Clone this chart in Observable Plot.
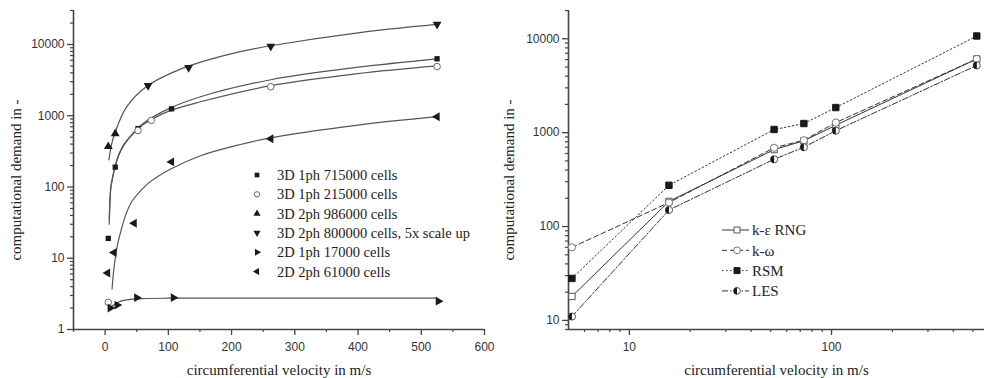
<!DOCTYPE html>
<html><head><meta charset="utf-8">
<script src="https://cdn.jsdelivr.net/npm/d3@7"></script>
<script src="https://cdn.jsdelivr.net/npm/@observablehq/plot@0.6"></script>
<style>
body{margin:0;background:#fff;}
#wrap{position:relative;width:984px;height:378px;overflow:hidden;background:#fff;}
.p{position:absolute;top:0;}
#leg{position:absolute;left:0;top:0;}
</style></head><body><div id="wrap"></div>
<script>
// ---------- LEFT CHART DATA ----------
const leftXLabel = "circumferential velocity in m/s";
const leftYLabel = "computational demand in -";
const leftXMajor = [0, 100, 200, 300, 400, 500, 600];
const leftXMinor = [-50, 50, 150, 250, 350, 450, 550];
const leftYMajor = [1, 10, 100, 1000, 10000];
const leftYMinor = [2,3,4,5,6,7,8,9,20,30,40,50,60,70,80,90,200,300,400,500,600,700,800,900,2000,3000,4000,5000,6000,7000,8000,9000,20000,30000];

const seriesNames = ["3D 1ph 715000 cells", "3D 1ph 215000 cells", "3D 2ph 986000 cells",
  "3D 2ph 800000 cells, 5x scale up", "2D 1ph 17000 cells", "2D 2ph 61000 cells"];

// measured points
const s715x = [5, 16, 52, 105, 525];
const s715y = [19, 190, 660, 1250, 6300];
const s215x = [5, 52, 73, 262, 525];
const s215y = [2.4, 620, 860, 2550, 4900];
const s986x = [5, 16];
const s986y = [370, 560];
const s800x = [68, 132, 262, 525];
const s800y = [2650, 4750, 9400, 19200];
const s17x = [8, 19, 50, 108, 527];
const s17y = [2.0, 2.2, 2.8, 2.8, 2.5];
const s61x = [4, 14, 46, 105, 262, 525];
const s61y = [6.2, 12, 31, 225, 475, 970];

// fitted trend curves
const fitTopX = [6, 10, 16, 34, 66, 108, 151, 214, 262, 400, 525];
const fitTopY = [240, 390, 590, 1330, 2600, 4100, 5650, 7950, 9600, 14600, 19100];
const fit715X = [6.5, 7.5, 9, 12, 16, 22, 30, 45, 60, 100, 151, 262, 400, 525];
const fit715Y = [35, 60, 100, 140, 200, 290, 400, 580, 780, 1250, 1850, 3200, 4800, 6300];
const fit215X = [6.5, 7.5, 9, 12, 16, 22, 30, 45, 60, 100, 151, 262, 400, 525];
const fit215Y = [30, 55, 95, 135, 195, 285, 390, 565, 745, 1150, 1570, 2640, 3900, 5000];
const fit17X = [8, 12, 16, 25, 40, 60, 100, 200, 525];
const fit17Y = [2.0, 2.15, 2.3, 2.5, 2.65, 2.72, 2.75, 2.75, 2.75];
const fit61X = [11, 13, 16, 20, 26, 34, 42, 55, 71, 103, 151, 214, 262, 400, 525];
const fit61Y = [3.7, 6, 10, 16, 26, 44, 62, 86, 118, 178, 275, 395, 490, 740, 970];

// ---------- RIGHT CHART DATA ----------
const rightXMajor = [10, 100];
const rightXMinor = [6,7,8,9,20,30,40,50,60,70,80,90,200,300,400,500];
const rightYMajor = [10, 100, 1000, 10000];
const rightYMinor = [8,9,20,30,40,50,60,70,80,90,200,300,400,500,600,700,800,900,2000,3000,4000,5000,6000,7000,8000,9000,20000];
const modelNames = ["k-\u03B5 RNG", "k-\u03C9", "RSM", "LES"];
const velocity = [5.2, 15.7, 52, 73, 105, 523];
const kEps = [18, 185, 660, 820, 1200, 6100];
const kOmega = [60, 180, 690, 830, 1280, 6100];
const rsm = [28, 275, 1080, 1250, 1850, 10700];
const les = [11, 150, 520, 700, 1050, 5200];

// ---------- symbols ----------
function tri(dir) {
  return {draw(ctx, size) {
    const s = Math.sqrt(4 * size / Math.sqrt(3)), h = s * Math.sqrt(3) / 2;
    let pts = [[0, -2*h/3], [s/2, h/3], [-s/2, h/3]];
    if (dir === "down") pts = pts.map(([x,y]) => [x, -y]);
    if (dir === "right") pts = pts.map(([x,y]) => [-y, x]);
    if (dir === "left") pts = pts.map(([x,y]) => [y, x]);
    ctx.moveTo(pts[0][0], pts[0][1]); ctx.lineTo(pts[1][0], pts[1][1]); ctx.lineTo(pts[2][0], pts[2][1]); ctx.closePath();
  }};
}
const triUp = tri("up"), triDown = tri("down"), triRight = tri("right"), triLeft = tri("left");
const halfDisk = {draw(ctx, size) {
  const r = Math.sqrt(size / Math.PI);
  ctx.moveTo(0, -r); ctx.arc(0, 0, r, -Math.PI/2, Math.PI/2, true); ctx.closePath();
}};

const zipXY = (xs, ys) => xs.map((x, i) => ({x, y: ys[i]}));
const ink = "#1a1a1a", curveInk = "#555", axisInk = "#444";
const sans = "'Liberation Sans', Arial, sans-serif", serif = "'Liberation Serif', 'Times New Roman', serif";

function axes(xMaj, xMin, yMaj, yMin, x0, y0) {
  return [
    Plot.axisX({ticks: xMaj, tickSize: 6, tickPadding: 7, tickFormat: d => String(d), label: null, stroke: axisInk, strokeWidth: 1.3}),
    Plot.axisX({ticks: xMin, tickSize: 3, tickFormat: () => "", label: null, stroke: axisInk, strokeWidth: 1.2}),
    Plot.axisY({ticks: yMaj, tickSize: 6, tickPadding: 3, tickFormat: d => String(d), label: null, stroke: axisInk, strokeWidth: 1.3}),
    Plot.axisY({ticks: yMin, tickSize: 3, tickFormat: () => "", label: null, stroke: axisInk, strokeWidth: 1.2}),
    Plot.ruleX([x0], {stroke: axisInk, strokeWidth: 1.6}),
    Plot.ruleY([y0], {stroke: axisInk, strokeWidth: 1.6})
  ];
}
function labels(dxY) {
  return [
    Plot.text([leftYLabel], {text: d => d, frameAnchor: "left", textAnchor: "middle", lineAnchor: "middle", dx: dxY, dy: 10, rotate: -90, fontFamily: serif, fontSize: 15, fill: "#222"}),
    Plot.text([leftXLabel], {text: d => d, frameAnchor: "bottom", textAnchor: "middle", lineAnchor: "middle", dy: 41, fontFamily: serif, fontSize: 15, fill: "#222"})
  ];
}

const left = Plot.plot({
  width: 500, height: 378, marginLeft: 73, marginRight: 16, marginTop: 10, marginBottom: 49,
  x: {domain: [-50, 600]},
  y: {type: "log", domain: [1, 30000]},
  style: {fontFamily: sans, fontSize: "12px", color: "#333", background: "transparent"},
  marks: [
    ...axes(leftXMajor, leftXMinor, leftYMajor, leftYMinor, -50, 1),
    ...[[fitTopX, fitTopY], [fit715X, fit715Y], [fit215X, fit215Y], [fit17X, fit17Y], [fit61X, fit61Y]].map(([xs, ys]) =>
      Plot.line(zipXY(xs, ys), {x: "x", y: "y", curve: "catmull-rom", stroke: curveInk, strokeWidth: 1.2})),
    Plot.dot(zipXY(s715x, s715y), {x: "x", y: "y", symbol: "square", r: 3, fill: ink}),
    Plot.dot(zipXY(s215x, s215y), {x: "x", y: "y", symbol: "circle", r: 3.3, fill: "white", stroke: "#666", strokeWidth: 1}),
    Plot.dot(zipXY(s986x, s986y), {x: "x", y: "y", symbol: triUp, r: 3.3, fill: ink}),
    Plot.dot(zipXY(s800x, s800y), {x: "x", y: "y", symbol: triDown, r: 3.3, fill: ink}),
    Plot.dot(zipXY(s17x, s17y), {x: "x", y: "y", symbol: triRight, r: 3.3, fill: ink}),
    Plot.dot(zipXY(s61x, s61y), {x: "x", y: "y", symbol: triLeft, r: 3.3, fill: ink}),
    ...labels(-57)
  ]
});
left.classList.add("p"); left.style.left = "0px";

const lineStyles = [
  {data: kEps, dash: null, sym: "square", fill: "white", stroke: "#555"},
  {data: kOmega, dash: "5,3", sym: "circle", fill: "white", stroke: "#777"},
  {data: rsm, dash: "1.5,2.5", sym: "square", fill: ink, stroke: ink},
  {data: les, dash: "6,2,1.5,2", sym: "circle", fill: "white", stroke: "#555"}
];

const right = Plot.plot({
  width: 484, height: 378, marginLeft: 68, marginRight: 0, marginTop: 10, marginBottom: 49,
  x: {type: "log", domain: [5, 571]},
  y: {type: "log", domain: [8, 20000]},
  style: {fontFamily: sans, fontSize: "12px", color: "#333", background: "transparent"},
  marks: [
    ...axes(rightXMajor, rightXMinor, rightYMajor, rightYMinor, 5, 8),
    ...lineStyles.map(s => Plot.line(zipXY(velocity, s.data), {x: "x", y: "y", stroke: "#333", strokeWidth: 1, strokeDasharray: s.dash})),
    ...lineStyles.map(s => Plot.dot(zipXY(velocity, s.data), {x: "x", y: "y", symbol: s.sym, r: 3.6, fill: s.fill, stroke: s.stroke, strokeWidth: 1})),
    Plot.dot(zipXY(velocity, les), {x: "x", y: "y", symbol: halfDisk, r: 3.6, fill: ink}),
    ...labels(-59)
  ]
});
right.classList.add("p"); right.style.left = "500px";

const wrap = document.getElementById("wrap");
wrap.appendChild(left); wrap.appendChild(right);

// ---------- legends ----------
const svg = d3.select(wrap).append("svg").attr("id", "leg").attr("width", 984).attr("height", 378);
const leftSyms = [d3.symbolSquare, d3.symbolCircle, triUp, triDown, triRight, triLeft];
seriesNames.forEach((name, i) => {
  const y = 175 + i * 19.3;
  const open = i === 1;
  svg.append("path").attr("transform", `translate(257,${y})`)
    .attr("d", d3.symbol(leftSyms[i], 22)())
    .attr("fill", open ? "white" : ink).attr("stroke", open ? "#666" : "none");
  svg.append("text").attr("x", 277).attr("y", y).attr("dy", "0.35em")
    .attr("font-family", serif).attr("font-size", 14.5).attr("fill", "#222").text(name);
});
const rightSyms = [d3.symbolSquare, d3.symbolCircle, d3.symbolSquare, d3.symbolCircle];
modelNames.forEach((name, i) => {
  const y = 230 + i * 20.3, s = lineStyles[i];
  svg.append("line").attr("x1", 722).attr("x2", 749).attr("y1", y).attr("y2", y)
    .attr("stroke", "#333").attr("stroke-width", 1).attr("stroke-dasharray", s.dash);
  svg.append("path").attr("transform", `translate(737,${y})`).attr("d", d3.symbol(rightSyms[i], 36)())
    .attr("fill", s.fill).attr("stroke", s.stroke);
  if (i === 3) svg.append("path").attr("transform", `translate(737,${y})`).attr("d", d3.symbol(halfDisk, 36)()).attr("fill", ink);
  svg.append("text").attr("x", 752).attr("y", y).attr("dy", "0.35em")
    .attr("font-family", serif).attr("font-size", 15).attr("fill", "#222").text(name);
});
</script></body></html>
